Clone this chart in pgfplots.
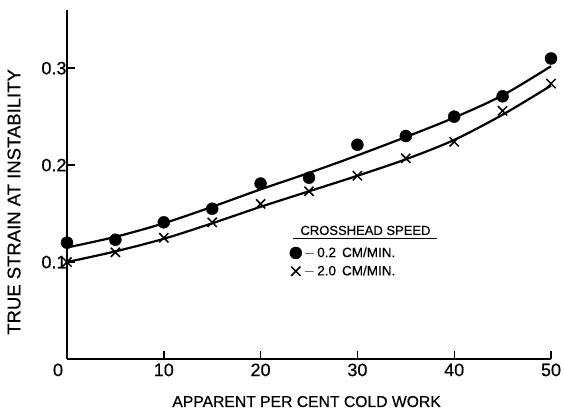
\documentclass[border=0pt]{standalone}
\usepackage{pgfplots}
\pgfplotsset{compat=1.18}
\usepackage{fontspec}
\setmainfont{Liberation Sans}[FakeBold=0.5]

% measured strain at instability
\pgfplotstableread{
x y
0  0.120
5  0.123
10 0.141
15 0.155
20 0.181
25 0.187
30 0.221
35 0.230
40 0.250
45 0.271
50 0.310
}\slow
\pgfplotstableread{
x y
0  0.100
5  0.110
10 0.125
15 0.141
20 0.160
25 0.173
30 0.189
35 0.207
40 0.224
45 0.256
50 0.284
}\fast
% fitted curves
\pgfplotstableread{
x y
0  0.115
5  0.126
10 0.140
15 0.157
20 0.175
25 0.192
30 0.210
35 0.229
40 0.249
45 0.272
50 0.302
}\slowfit
\pgfplotstableread{
x y
0  0.100
5  0.111
10 0.124
15 0.140
20 0.157
25 0.173
30 0.189
35 0.206
40 0.226
45 0.252
50 0.282
}\fastfit

\begin{document}
\begin{tikzpicture}
\begin{axis}[
  scale only axis,
  width=484pt, height=349pt,
  xmin=0, xmax=50, ymin=0, ymax=0.36,
  axis x line*=bottom, axis y line*=left,
  axis line style={line width=1.6pt, -},
  xtick={0,10,20,30,40,50},
  xticklabels={\makebox[0pt][r]{0\hspace{4pt}},10,20,30,40,50},
  ytick={0.1,0.2,0.3},
  yticklabels={0.1,0.2,0.3},
  tick align=inside,
  major tick length=8pt,
  tick style={line width=1.4pt, black},
  /pgf/number format/assume math mode=true,
  ticklabel style={font=\fontsize{18}{21}\selectfont},
  xticklabel style={yshift=-1pt},
  yticklabel style={xshift=3pt},
  xlabel={APPARENT PER CENT COLD WORK},
  ylabel={TRUE STRAIN AT INSTABILITY},
  xlabel style={font=\fontsize{15.7}{18}\selectfont,
    at={(axis description cs:0.495,-0.122)}, anchor=center},
  ylabel style={font=\fontsize{18.5}{21}\selectfont,
    at={(axis description cs:-0.1095,0.45)}, anchor=center},
  clip=false,
  legend image code/.code={%
    \draw[mark repeat=2, mark phase=2, #1]
      plot coordinates {(-0.2cm,0cm) (0cm,0cm) (0.2cm,0cm)};},
  legend style={draw=none, fill=none, at={(axis cs:23.0,0.1175)}, anchor=north west,
    font=\fontsize{13.5}{16}\selectfont, row sep=3pt, inner sep=0pt,
    /tikz/every even column/.append style={column sep=0pt}},
  legend cell align=left,
]
\addplot[black, line width=2.2pt, smooth, tension=0.5, forget plot] table {\slowfit};
\addplot[black, line width=2.2pt, smooth, tension=0.5, forget plot] table {\fastfit};
\addplot[only marks, mark=*, mark size=6pt, black] table {\slow};
\addplot[only marks, mark=x, mark size=6.5pt, black, mark options={line width=1.5pt}] table {\fast};
\legend{$-$\,0.2\, CM/MIN., $-$\,2.0\, CM/MIN.}
\node[anchor=base west, font=\fontsize{13}{15}\selectfont, inner sep=0pt]
  at (axis cs:24.1,0.128) {CROSSHEAD SPEED};
\draw[line width=1.4pt] (axis cs:23.35,0.1245) -- (axis cs:38.2,0.1245);
\end{axis}
\pgfresetboundingbox
\path (-67pt,-54pt) rectangle (497pt,359pt);
\end{tikzpicture}
\end{document}
